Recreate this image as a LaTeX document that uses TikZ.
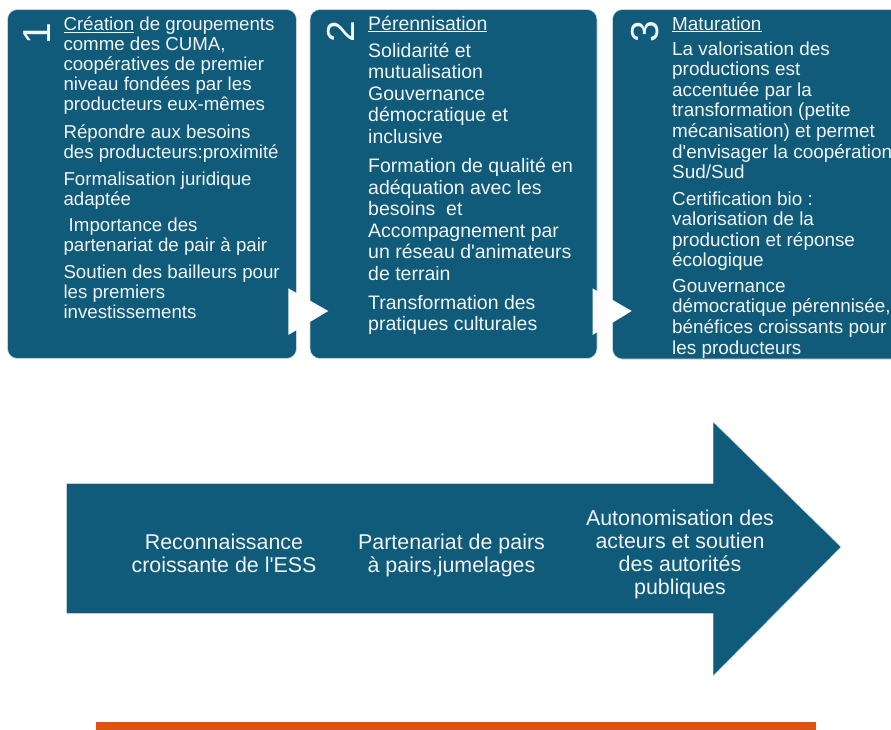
\documentclass[tikz,border=0pt]{standalone}
\usepackage{fontspec}
\newfontfamily\arial{Liberation Sans}
\definecolor{boxblue}{RGB}{16,91,122}
\definecolor{edgeblue}{RGB}{196,214,225}
\definecolor{barorange}{RGB}{224,81,11}
\definecolor{txt}{RGB}{242,245,247}
\begin{document}
\begin{tikzpicture}[x=1pt,y=-1pt,
  stage/.style={fill=boxblue, draw=edgeblue, line width=0.6pt, rounded corners=10pt},
  num/.style={text=txt, rotate=90, inner sep=0pt, font=\arial\fontsize{39}{39}\selectfont},
  para/.style={anchor=base west, align=left, inner sep=0pt, text=txt},
  pa/.style={para, font=\arial\fontsize{18.7}{20}\selectfont},
  pb/.style={para, font=\arial\fontsize{19.5}{21.5}\selectfont},
  pc/.style={para, font=\arial\fontsize{18.9}{20.6}\selectfont},
  arrtxt/.style={anchor=base, align=center, inner sep=0pt, text=txt, font=\arial\fontsize{21.4}{23.3}\selectfont},
  playtri/.style={fill=white, draw=none}]
\useasboundingbox (0,0) rectangle (891,729);

% stage boxes
\draw[stage] (7.5,9.5) rectangle (296.5,358.5);
\draw[stage] (310,9.5) rectangle (597,358.5);
\draw[stage] (612.5,9.5) rectangle (905,359);

% numbers
\node[num] (n1) at (37,34) {1};
\node[num] (n2) at (341,32) {2};
\node[num] (n3) at (645,32) {3};

% box 1 (anchors on the last line's baseline)
\node[pa] (a1) at (63.3,110.7) {\underline{Création} de groupements\\comme des CUMA,\\coopératives de premier\\niveau fondées par les\\producteurs eux-mêmes};
\node[pa] (a2) at (63.3,158.3) {Répondre aux besoins\\des producteurs:proximité};
\node[pa] (a3) at (63.3,205) {Formalisation juridique\\adaptée};
\node[pa] (a4) at (63.3,251.7) {\hspace*{0.28em}Importance des\\partenariat de pair à pair};
\node[pa] (a5) at (63.3,318.3) {Soutien des bailleurs pour\\les premiers\\investissements};

% box 2
\node[pb] (b1) at (368,30) {\underline{Pérennisation}};
\node[pb] (b2) at (368,143.3) {Solidarité et\\mutualisation\\Gouvernance\\démocratique et\\inclusive};
\node[pb] (b3) at (368,280.2) {Formation de qualité en\\adéquation avec les\\besoins\ \ et\\Accompagnement par\\un réseau d'animateurs\\de terrain};
\node[pb] (b4) at (368,330.5) {Transformation des\\pratiques culturales};

% box 3
\node[pc] (c1) at (672,30) {\underline{Maturation}};
\node[pc] (c2) at (672,178.6) {La valorisation des\\productions est\\accentuée par la\\transformation (petite\\mécanisation) et permet\\d'envisager la coopération\\Sud/Sud};
\node[pc] (c3) at (672,266.8) {Certification bio :\\valorisation de la\\production et réponse\\écologique};
\node[pc] (c4) at (672,354.1) {Gouvernance\\démocratique pérennisée,\\bénéfices croissants pour\\les producteurs};

% white triangles between the boxes
\coordinate (ta1) at (288.3,288.3);
\coordinate (ta2) at (328.3,311);
\coordinate (ta3) at (288.3,335);
\coordinate (tb1) at (592.5,288.3);
\coordinate (tb2) at (631.7,311);
\coordinate (tb3) at (592.5,335);
\fill[playtri] (ta1) -- (ta2) -- (ta3) -- cycle;
\fill[playtri] (tb1) -- (tb2) -- (tb3) -- cycle;

% big arrow
\draw[fill=boxblue, draw=edgeblue, line width=0.5pt]
  (66.7,483.5) -- (713,483.5) -- (713,421.7) -- (841,547)
  -- (713,676) -- (713,613.3) -- (66.7,613.3) -- cycle;
\node[arrtxt] (r1) at (224,572.6) {Reconnaissance\\croissante de l'ESS};
\node[arrtxt] (r2) at (451.5,572.6) {Partenariat de pairs\\à pairs,jumelages};
\node[arrtxt] (r3) at (680,594.9) {Autonomisation des\\acteurs et soutien\\des autorités\\publiques};

% orange bar
\fill[barorange] (96,721.5) rectangle (816,735);
\end{tikzpicture}
\end{document}
